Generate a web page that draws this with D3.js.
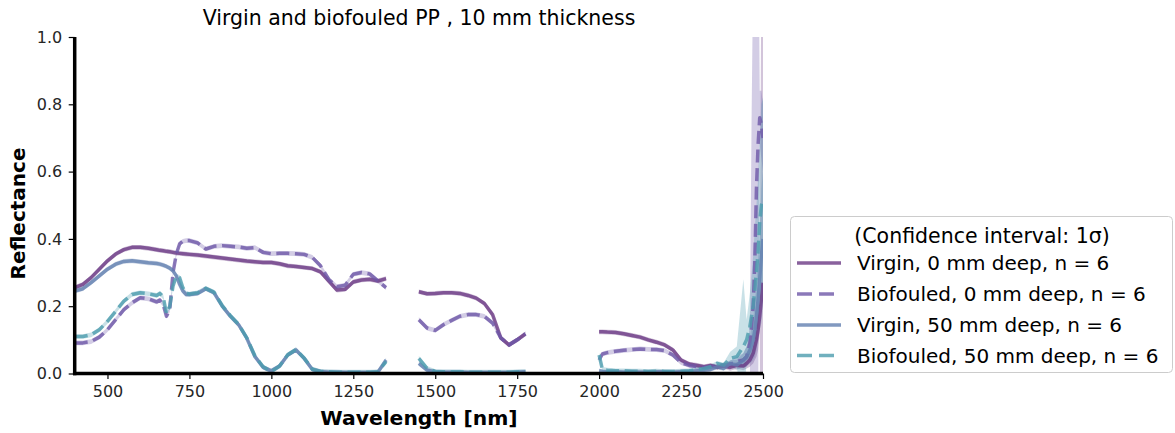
<!DOCTYPE html>
<html>
<head>
<meta charset="utf-8">
<script src="https://cdn.jsdelivr.net/npm/d3@7"></script>
<style>
  html, body { margin: 0; padding: 0; background: #fff; }
  svg { display: block; font-family: "DejaVu Sans", sans-serif; }
</style>
</head>
<body>
<svg id="chart" width="1175" height="433"></svg>
<script>
// ---------------- DATA ----------------
const chartTitle = "Virgin and biofouled PP , 10 mm thickness";
const xLabel = "Wavelength [nm]";
const yLabel = "Reflectance";
const xTicks = [500, 750, 1000, 1250, 1500, 1750, 2000, 2250, 2500];
const yTicks = [0.0, 0.2, 0.4, 0.6, 0.8, 1.0];
const legendTitle = "(Confidence interval: 1\u03c3)";
const seriesNames = [
  "Virgin, 0 mm deep, n = 6",
  "Biofouled, 0 mm deep, n = 6",
  "Virgin, 50 mm deep, n = 6",
  "Biofouled, 50 mm deep, n = 6"
];

// shared wavelength grid (null values = water absorption gaps)
const wavelengths = [
  400,425,450,475,500,525,550,575,600,625,650,
  660,670,680,690,700,710,720,730,740,750,
  775,800,825,850,875,900,925,950,975,1000,1025,1050,1075,1100,1125,1150,1175,1200,1225,1250,1275,1300,1325,1350,
  1400,
  1450,1475,1500,1525,1550,1575,1600,1625,1650,1675,1700,1725,1750,1775,
  1900,
  2000,2010,2025,2050,2075,2100,2125,2150,2175,2200,2225,2250,2275,2300,
  2320,2340,2360,2380,2400,2420,2440,2450,2460,2465,2470,2475,2480,2485,2490,2495,2500
];

const virgin0 = [
  0.255,0.265,0.285,0.31,0.335,0.355,0.368,0.375,0.375,0.372,0.368,
  0.366,0.365,0.363,0.362,0.36,0.358,0.357,0.356,0.355,0.354,
  0.352,0.349,0.346,0.343,0.34,0.337,0.334,0.332,0.33,0.33,0.326,0.32,0.318,0.315,0.312,0.302,0.275,0.248,0.25,0.272,0.278,0.28,0.275,0.282,
  null,
  0.243,0.237,0.238,0.24,0.24,0.238,0.232,0.224,0.208,0.175,0.106,0.085,0.1,0.118,
  null,
  0.124,0.124,0.123,0.122,0.118,0.113,0.108,0.1,0.093,0.085,0.07,0.04,0.028,0.024,
  0.02,0.024,0.018,0.022,0.018,0.024,0.022,0.03,0.04,0.05,0.06,0.08,0.1,0.13,0.17,0.22,0.27
];

const biofouled0 = [
  0.091,0.091,0.095,0.108,0.13,0.16,0.19,0.21,0.225,0.222,0.213,
  0.218,0.205,0.17,0.19,0.30,0.355,0.385,0.393,0.395,0.395,
  0.388,0.37,0.378,0.38,0.378,0.376,0.372,0.374,0.36,0.356,0.357,0.357,0.356,0.354,0.345,0.32,0.28,0.258,0.262,0.295,0.3,0.296,0.275,0.255,
  null,
  0.16,0.135,0.128,0.145,0.158,0.17,0.175,0.175,0.17,0.15,0.106,0.085,0.1,0.118,
  null,
  0.04,0.058,0.062,0.066,0.069,0.071,0.073,0.072,0.071,0.068,0.055,0.032,0.024,0.02,
  0.018,0.02,0.022,0.025,0.028,0.035,0.04,0.05,0.09,0.14,0.2,0.33,0.55,0.68,0.76,0.74,0.7
];

const virgin50 = [
  0.245,0.252,0.27,0.29,0.31,0.325,0.333,0.335,0.332,0.329,0.327,
  0.325,0.322,0.318,0.313,0.305,0.29,0.265,0.245,0.235,0.235,
  0.238,0.252,0.24,0.2,0.17,0.145,0.105,0.05,0.018,0.008,0.022,0.055,0.07,0.045,0.012,0.006,0.004,0.004,0.003,0.003,0.003,0.003,0.004,0.04,
  null,
  0.03,0.01,0.005,0.004,0.004,0.004,0.003,0.003,0.003,0.003,0.003,0.003,0.004,0.005,
  null,
  0.008,0.006,0.005,0.005,0.004,0.005,0.004,0.004,0.005,0.005,0.004,0.005,0.006,0.008,
  0.01,0.012,0.02,0.015,0.03,0.025,0.04,0.05,0.07,0.085,0.1,0.13,0.17,0.22,0.28,0.35,0.4
];

const biofouled50 = [
  0.11,0.11,0.115,0.13,0.155,0.185,0.215,0.235,0.24,0.237,0.232,
  0.238,0.228,0.178,0.2,0.26,0.29,0.285,0.255,0.238,0.236,
  0.24,0.253,0.242,0.202,0.172,0.146,0.106,0.052,0.02,0.006,0.022,0.056,0.071,0.046,0.013,0.006,0.005,0.004,0.004,0.004,0.004,0.004,0.005,0.035,
  null,
  0.045,0.015,0.006,0.005,0.005,0.005,0.004,0.004,0.004,0.004,0.004,0.004,0.005,0.006,
  null,
  0.055,0.012,0.01,0.008,0.008,0.007,0.007,0.006,0.007,0.006,0.006,0.007,0.008,0.012,
  0.015,0.02,0.03,0.025,0.045,0.05,0.08,0.1,0.14,0.17,0.2,0.25,0.3,0.36,0.45,0.5,0.52
];

// confidence interval (1 sigma): small everywhere except the noisy tail
const ciBase = 0.007;
const ciTailWavelengths = [2400,2420,2440,2450,2460,2465,2470,2475,2480,2485,2490,2495,2500];
const ciVirgin0      = [0.01,0.01,0.012,0.015,0.02,0.025,0.03,0.04,0.05,0.06,0.05,1.0,1.0];
const ciBiofouled0   = [0.01,0.015,0.02,0.03,0.05,0.6,1.0,1.0,1.0,0.8,0.08,0.1,0.1];
const ciVirgin50     = [0.01,0.015,0.02,0.03,0.04,0.05,0.06,0.08,0.1,0.12,0.15,0.2,0.2];
const ciBiofouled50  = [0.02,0.03,0.2,0.06,0.1,0.12,0.15,0.18,0.2,0.22,0.25,0.3,0.3];

const seriesColors = ["#6b3a85", "#6e58a8", "#6280b0", "#4c9cae"];
const seriesDashed = [false, true, false, true];

// ---------------- CHART ----------------
const svg = d3.select("#chart");
const x = d3.scaleLinear().domain([400, 2500]).range([74.7, 763]);
const y = d3.scaleLinear().domain([0, 1]).range([373.5, 37]);

svg.append("defs").append("clipPath").attr("id", "plotclip")
  .append("rect").attr("x", 74.7).attr("y", 37).attr("width", 763 - 74.7).attr("height", 373.5 - 37);

const valueSets = [virgin0, biofouled0, virgin50, biofouled50];
const ciSets = [ciVirgin0, ciBiofouled0, ciVirgin50, ciBiofouled50];

function buildSeries(vals, ci) {
  return wavelengths.map((w, i) => {
    const ti = ciTailWavelengths.indexOf(w);
    const s = ti >= 0 ? ci[ti] : ciBase;
    return {w: w, v: vals[i], s: s};
  });
}
const series = valueSets.map((v, i) => buildSeries(v, ciSets[i]));

const plot = svg.append("g").attr("clip-path", "url(#plotclip)");

const area = d3.area()
  .defined(d => d.v != null)
  .x(d => x(d.w))
  .y0(d => y(d.v - d.s))
  .y1(d => y(d.v + d.s));
const line = d3.line()
  .defined(d => d.v != null)
  .x(d => x(d.w))
  .y(d => y(d.v));

series.forEach((data, i) => {
  plot.append("path").datum(data)
    .attr("d", area)
    .attr("fill", seriesColors[i])
    .attr("fill-opacity", 0.3)
    .attr("stroke", "none");
});
series.forEach((data, i) => {
  plot.append("path").datum(data)
    .attr("d", line)
    .attr("fill", "none")
    .attr("stroke", seriesColors[i])
    .attr("stroke-opacity", 0.8)
    .attr("stroke-width", 3.5)
    .attr("stroke-linejoin", "round")
    .attr("stroke-dasharray", seriesDashed[i] ? "13,5.6" : null);
});

// axes
const xAxis = svg.append("g").attr("transform", "translate(0,373.5)")
  .call(d3.axisBottom(x).tickValues(xTicks).tickSize(5.5).tickPadding(7).tickFormat(d3.format("d")));
const yAxis = svg.append("g").attr("transform", "translate(74.7,0)")
  .call(d3.axisLeft(y).tickValues(yTicks).tickSize(6).tickPadding(6.5).tickFormat(d3.format(".1f")));
[xAxis, yAxis].forEach(g => {
  g.select(".domain").attr("stroke", "#000").attr("stroke-width", 3.5);
  g.selectAll(".tick line").attr("stroke", "#000").attr("stroke-width", 1.2);
  g.selectAll(".tick text").attr("fill", "#262626")
    .style("font-family", "DejaVu Sans").style("font-size", "16px");
});
xAxis.select(".domain").attr("d", `M${74.7 - 1.75},0H763`);
yAxis.select(".domain").attr("d", `M0,${373.5 + 1.75}V37`);

// title
svg.append("text").attr("x", 419).attr("y", 25)
  .attr("text-anchor", "middle").style("font-size", "20.5px").attr("fill", "#000")
  .text(chartTitle);
// axis labels
svg.append("text").attr("x", 419).attr("y", 425)
  .attr("text-anchor", "middle").style("font-size", "20.3px").style("font-weight", "bold")
  .text(xLabel);
svg.append("text").attr("transform", "translate(25,213.5) rotate(-90)")
  .attr("text-anchor", "middle").style("font-size", "20px").style("font-weight", "bold")
  .text(yLabel);

// legend
const lg = svg.append("g");
lg.append("rect").attr("x", 790.5).attr("y", 216.5).attr("width", 382).attr("height", 156)
  .attr("rx", 4).attr("fill", "#fff").attr("fill-opacity", 0.8).attr("stroke", "#cccccc");
lg.append("text").attr("x", 982).attr("y", 242.5).attr("text-anchor", "middle")
  .style("font-size", "20.5px").text(legendTitle);
const rowY = [263, 294, 325, 355.5];
seriesNames.forEach((name, i) => {
  lg.append("line").attr("x1", 797).attr("x2", 841).attr("y1", rowY[i]).attr("y2", rowY[i])
    .attr("stroke", seriesColors[i]).attr("stroke-opacity", 0.8).attr("stroke-width", 3.5)
    .attr("stroke-dasharray", seriesDashed[i] ? "15,7" : null);
  lg.append("text").attr("x", 857).attr("y", rowY[i] + 7)
    .style("font-size", "20px").text(name);
});
</script>
</body>
</html>
